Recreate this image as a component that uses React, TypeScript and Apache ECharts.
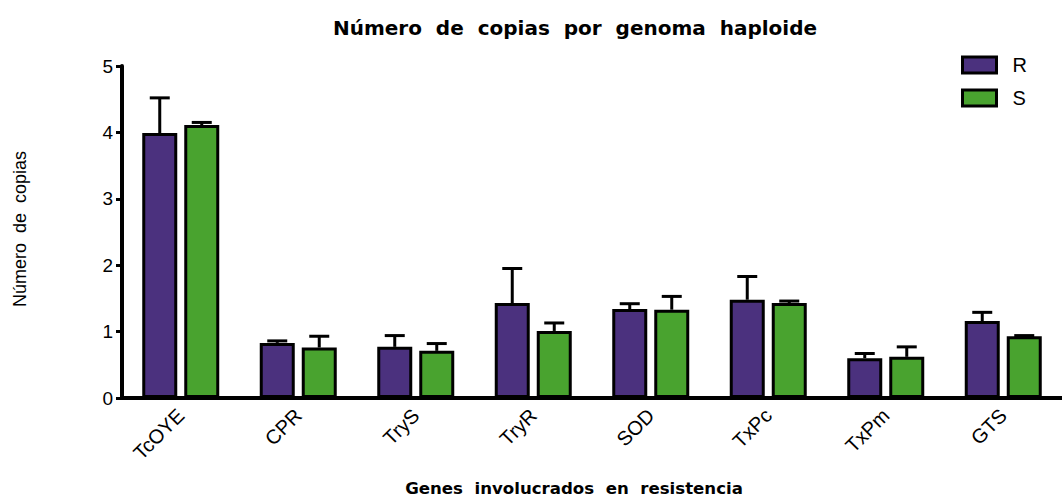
import React, { useEffect, useRef } from "react";
import * as echarts from "echarts";

const genes = ["TcOYE", "CPR", "TryS", "TryR", "SOD", "TxPc", "TxPm", "GTS"];
const seriesNames = ["R", "S"];
const meanR = [3.99, 0.83, 0.77, 1.43, 1.34, 1.48, 0.6, 1.16];
const upperR = [4.52, 0.86, 0.94, 1.95, 1.42, 1.83, 0.67, 1.29];
const meanS = [4.11, 0.76, 0.71, 1.01, 1.33, 1.43, 0.62, 0.93];
const upperS = [4.15, 0.93, 0.82, 1.13, 1.53, 1.46, 0.77, 0.94];
const yTicks = [0, 1, 2, 3, 4, 5];

const colorR = "#4b317e";
const colorS = "#49a32f";

const BAR_W = 35;
const BAR_GAP = 7;
const CAP_W = 20;

export default function App() {
  const ref = useRef<HTMLDivElement>(null);

  useEffect(() => {
    if (!ref.current) return;
    const chart = echarts.init(ref.current, null, { renderer: "svg" });

    const errorData: number[][] = [];
    genes.forEach((_, i) => {
      errorData.push([i, meanR[i], upperR[i], 0]);
      errorData.push([i, meanS[i], upperS[i], 1]);
    });

    const offset = (BAR_W + BAR_GAP) / 2;

    chart.setOption({
      animation: false,
      backgroundColor: "#fff",
      grid: { left: 122, top: 66, width: 953, height: 332, containLabel: false },
      legend: {
        data: seriesNames,
        orient: "vertical",
        left: 956,
        top: 50,
        itemWidth: 34,
        itemHeight: 16,
        itemGap: 13,
        icon: "rect",
        itemStyle: { borderColor: "#000", borderWidth: 3 },
        textStyle: {
          fontSize: 20,
          fontFamily: "Liberation Sans",
          color: "#000",
          padding: [0, 0, 0, 11],
        },
      },
      graphic: [
        {
          type: "text",
          x: 575,
          y: 28,
          style: {
            text: "Número  de  copias  por  genoma  haploide",
            fontFamily: "DejaVu Sans",
            fontWeight: "bold",
            fontSize: 20,
            fill: "#000",
            align: "center",
            verticalAlign: "middle",
          },
        },
        {
          type: "text",
          x: 574,
          y: 488,
          style: {
            text: "Genes  involucrados  en  resistencia",
            fontFamily: "DejaVu Sans",
            fontWeight: "bold",
            fontSize: 16.6,
            fill: "#000",
            align: "center",
            verticalAlign: "middle",
          },
        },
        {
          type: "text",
          x: 20,
          y: 229,
          rotation: Math.PI / 2,
          style: {
            text: "Número  de  copias",
            fontFamily: "Liberation Sans",
            fontSize: 18,
            fill: "#000",
            align: "center",
            verticalAlign: "middle",
          },
        },
      ],
      xAxis: {
        type: "category",
        data: genes,
        axisLine: { lineStyle: { color: "#000", width: 4 } },
        axisTick: { alignWithLabel: true, length: 7, lineStyle: { color: "#000", width: 3 } },
        axisLabel: {
          rotate: 45,
          margin: 14,
          fontSize: 20,
          fontFamily: "Liberation Sans",
          color: "#000",
        },
        splitLine: { show: false },
      },
      yAxis: {
        type: "value",
        min: 0,
        max: 5,
        interval: 1,
        axisLine: { show: true, lineStyle: { color: "#000", width: 4 } },
        axisTick: { show: true, length: 6, lineStyle: { color: "#000", width: 3 } },
        axisLabel: {
          margin: 9,
          fontSize: 19,
          fontFamily: "Liberation Sans",
          color: "#000",
          formatter: (v: number) => (yTicks.includes(v) ? String(v) : ""),
        },
        splitLine: { show: false },
      },
      series: [
        {
          name: "R",
          type: "bar",
          data: meanR,
          barWidth: BAR_W,
          barGap: `${(BAR_GAP / BAR_W) * 100}%`,
          itemStyle: { color: colorR, borderColor: "#000", borderWidth: 3 },
        },
        {
          name: "S",
          type: "bar",
          data: meanS,
          barWidth: BAR_W,
          barGap: `${(BAR_GAP / BAR_W) * 100}%`,
          itemStyle: { color: colorS, borderColor: "#000", borderWidth: 3 },
        },
        {
          name: "error",
          type: "custom",
          data: errorData,
          z: 3,
          renderItem: (_params: any, api: any) => {
            const cat = api.value(0);
            const mean = api.value(1);
            const up = api.value(2);
            const which = api.value(3);
            const base = api.coord([cat, mean]);
            const top = api.coord([cat, up]);
            const x = base[0] + (which === 0 ? -offset : offset);
            const style = { stroke: "#000", lineWidth: 3 };
            return {
              type: "group",
              children: [
                { type: "line", shape: { x1: x, y1: base[1], x2: x, y2: top[1] }, style },
                {
                  type: "line",
                  shape: { x1: x - CAP_W / 2, y1: top[1], x2: x + CAP_W / 2, y2: top[1] },
                  style,
                },
              ],
            };
          },
        },
      ],
    });

    return () => chart.dispose();
  }, []);

  return (
    <div
      ref={ref}
      style={{ position: "fixed", left: 0, top: 0, width: 1062, height: 497, background: "#fff" }}
    />
  );
}
